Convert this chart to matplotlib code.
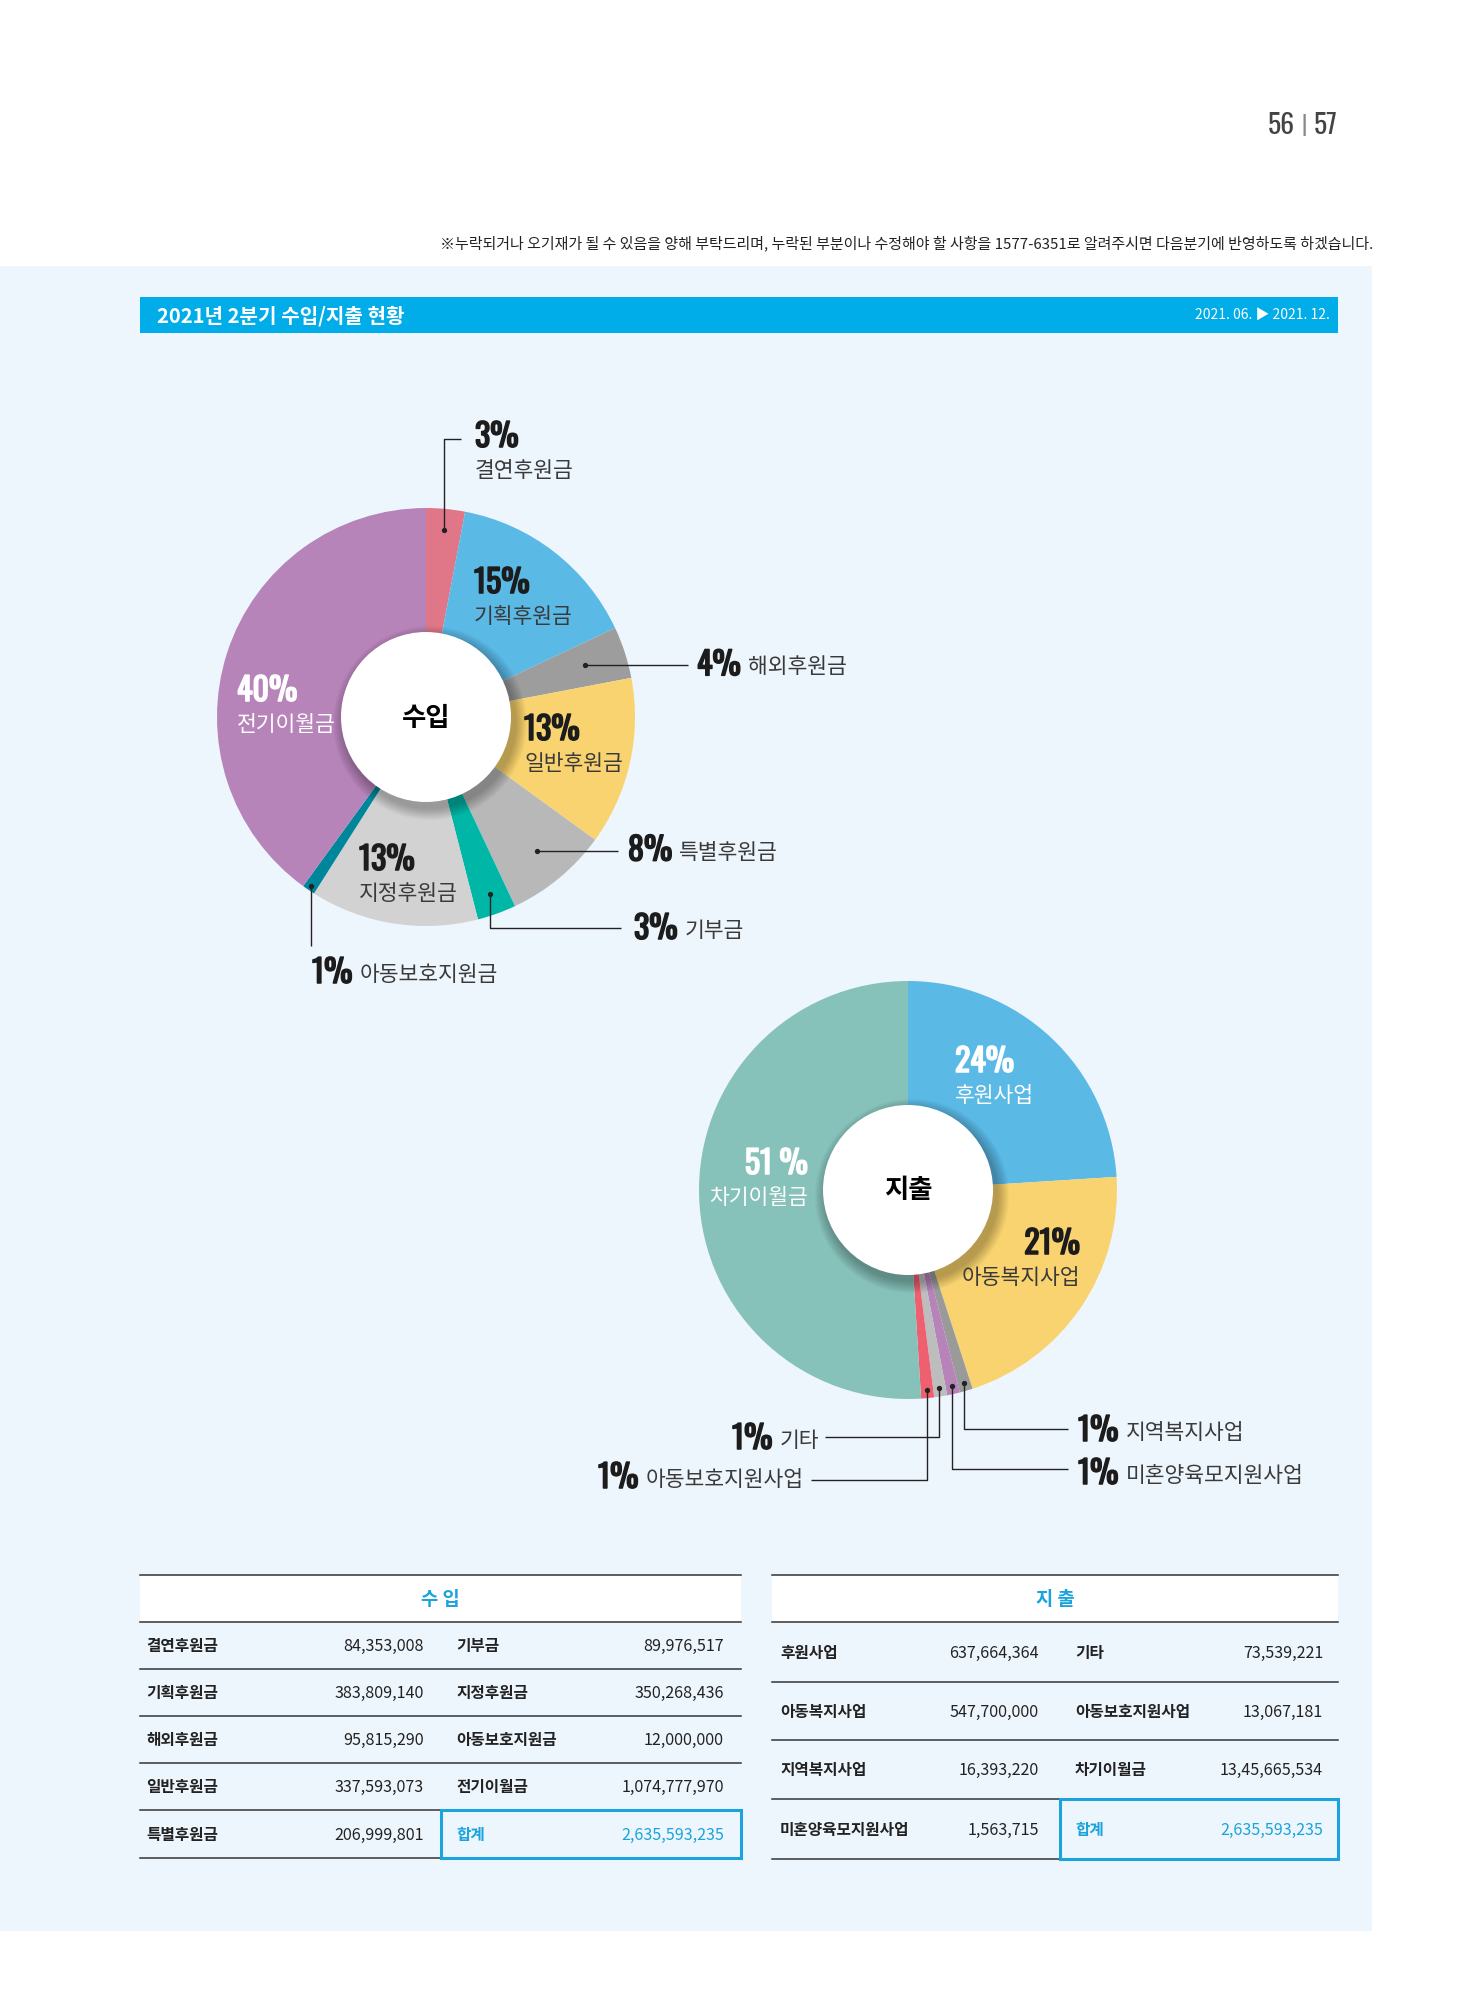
import matplotlib
matplotlib.use("Agg")
import matplotlib.pyplot as plt
import matplotlib.patheffects as pe
from matplotlib.patches import Rectangle, Circle
import numpy as np

W, H = 1480, 1999

KR = ["Noto Sans CJK KR", "DejaVu Sans"]
NUM = ["Oswald", "Bebas Neue", "Roboto Condensed", "Liberation Sans", "DejaVu Sans"]

# ---- data ----
income_labels = ["결연후원금", "기획후원금", "해외후원금", "일반후원금", "특별후원금",
                 "기부금", "지정후원금", "아동보호지원금", "전기이월금"]
income_pct = [3, 15, 4, 13, 8, 3, 13, 1, 40]
income_amounts = ["84,353,008", "383,809,140", "95,815,290", "337,593,073", "206,999,801",
                  "89,976,517", "350,268,436", "12,000,000", "1,074,777,970"]
income_colors = ["#E07789", "#5BB9E6", "#9D9D9D", "#F9D36F", "#B8B8B8",
                 "#00B7A7", "#D2D2D2", "#00869A", "#B784BA"]

expense_labels = ["후원사업", "아동복지사업", "지역복지사업", "미혼양육모지원사업",
                  "기타", "아동보호지원사업", "차기이월금"]
expense_pct = [24, 21, 1, 1, 1, 1, 51]
expense_amounts = ["637,664,364", "547,700,000", "16,393,220", "1,563,715",
                   "73,539,221", "13,067,181", "13,45,665,534"]
expense_colors = ["#5BB9E6", "#F9D36F", "#9A9A9A", "#B784BA", "#BDBDBD", "#EE6070", "#86C1BA"]

total_amount = "2,635,593,235"

BLUE = "#00ADE8"
TBL_BLUE = "#1AA3DC"
DARK = "#1c1c1c"
GREY_TXT = "#3a3a3a"
R, R_IN = 209, 85
PCT_SIZE = 23
LBL_SIZE = 15.5


def Y(y):
    # layout numbers below are measured from the top of the page
    return H - y


def heavy(color):
    # Oswald only ships one weight here, thicken it a little
    return [pe.withStroke(linewidth=1.1, foreground=color)]


fig = plt.figure(figsize=(W / 100, H / 100), dpi=100)
ax = fig.add_axes([0, 0, 1, 1])
ax.set_xlim(0, W)
ax.set_ylim(0, H)
renderer = fig.canvas.get_renderer()

# page background
ax.add_patch(Rectangle((0, Y(1932)), 1372, 1932 - 267, color="#EEF6FD", lw=0, zorder=0))
ax.text(1295, Y(125), "56", family=NUM, size=20, weight="light", color="#444444", ha="right", va="center")
ax.text(1304, Y(125), "|", family=NUM, size=16, weight="light", color="#888888", ha="center", va="center")
ax.text(1314, Y(125), "57", family=NUM, size=20, weight="light", color="#444444", ha="left", va="center")
ax.text(1373, Y(243),
        "※누락되거나 오기재가 될 수 있음을 양해 부탁드리며, 누락된 부분이나 수정해야 할 사항을 "
        "1577-6351로 알려주시면 다음분기에 반영하도록 하겠습니다.",
        family=KR, size=10.8, weight="medium", color="#222222", ha="right", va="center")

# title bar
ax.add_patch(Rectangle((140, Y(334)), 1338 - 140, 36, color=BLUE, lw=0, zorder=1))
ax.text(157, Y(316), "2021년 2분기 수입/지출 현황", family=KR, size=14.5, weight="bold",
        color="white", ha="left", va="center", zorder=2)
ax.text(1330, Y(316), "2021. 06. ▶ 2021. 12.", family=KR, size=10, weight="medium", color="white",
        ha="right", va="center", zorder=2)


def donut(values, colors, cx, cy, title):
    wedges, _ = ax.pie(values, colors=colors, startangle=90, counterclock=False,
                       center=(cx, Y(cy)), radius=R, wedgeprops=dict(linewidth=0))
    # pie() resets the limits, put the page coordinates back
    ax.set_xlim(0, W)
    ax.set_ylim(0, H)
    # soft shadow under the hole
    for k in range(12):
        ax.add_patch(Circle((cx + 4, Y(cy) - 6), R_IN + 12 - k, color="black",
                            alpha=0.025, lw=0, zorder=3))
    ax.add_patch(Circle((cx, Y(cy)), R_IN, color="white", lw=0, zorder=4))
    ax.text(cx, Y(cy), title, family=KR, size=19, weight="bold", color="black",
            ha="center", va="center", zorder=5)
    return wedges


def anchor(w, frac):
    mid = np.deg2rad((w.theta1 + w.theta2) / 2)
    cx, cy = w.center
    return cx + frac * w.r * np.cos(mid), cy + frac * w.r * np.sin(mid)


def stacked(x, y, pct, name, color, ha="left"):
    pc = color if color == "white" else DARK
    ax.text(x, Y(y), pct, family=NUM, weight="bold", size=PCT_SIZE, color=pc,
            ha=ha, va="center", zorder=6, path_effects=heavy(pc))
    ax.text(x, Y(y + 33), name, family=KR, size=LBL_SIZE, weight="light", color=color,
            ha=ha, va="center", zorder=6)


def inline(xp, y, pct, name):
    t = ax.text(xp, Y(y), pct, family=NUM, weight="bold", size=PCT_SIZE, color=DARK,
                ha="left", va="center", zorder=6, path_effects=heavy(DARK))
    bb = t.get_window_extent(renderer).transformed(ax.transData.inverted())
    ax.text(bb.x1 + 7, Y(y) - 1, name, family=KR, size=LBL_SIZE, weight="light", color=GREY_TXT,
            ha="left", va="center", zorder=6)


def leader(w, frac, end_x=None, elbow_y=None):
    x0, y0 = anchor(w, frac)
    if end_x is None:
        end_x = x0
    if elbow_y is None:
        xs, ys = [x0, end_x], [y0, y0]
    else:
        xs, ys = [x0, x0, end_x], [y0, Y(elbow_y), Y(elbow_y)]
    ax.plot(xs, ys, color="#222222", lw=1.0, zorder=6, solid_capstyle="butt")
    ax.plot([x0], [y0], "o", color="#222222", ms=2.8, zorder=7)
    return H - y0


# ---- income donut ----
iw = donut(income_pct, income_colors, 426, 718, "수입")
p = [f"{v}%" for v in income_pct]

leader(iw[0], 0.9, 461, elbow_y=440)
stacked(475, 438, p[0], income_labels[0], GREY_TXT)
stacked(474, 584, p[1], income_labels[1], GREY_TXT)
ty = leader(iw[2], 0.8, 688)
inline(697, ty, p[2], income_labels[2])
stacked(524, 731, p[3], income_labels[3], GREY_TXT)
ty = leader(iw[4], 0.83, 618)
inline(628, ty, p[4], income_labels[4])
leader(iw[5], 0.9, 621, elbow_y=929)
inline(634, 930, p[5], income_labels[5])
stacked(359, 861, p[6], income_labels[6], GREY_TXT)
leader(iw[7], 0.98, elbow_y=947)
inline(312, 974, p[7], income_labels[7])
stacked(237, 692, p[8], income_labels[8], "white")

# ---- expense donut ----
ew = donut(expense_pct, expense_colors, 908, 1191, "지출")
q = [f"{v}%" for v in expense_pct]

stacked(955, 1063, q[0], expense_labels[0], "white")
stacked(1080, 1245, q[1], expense_labels[1], GREY_TXT, ha="right")
leader(ew[2], 0.96, 1068, elbow_y=1430)
inline(1078, 1432, q[2], expense_labels[2])
leader(ew[3], 0.96, 1068, elbow_y=1470)
inline(1078, 1475, q[3], expense_labels[3])
leader(ew[4], 0.96, 825, elbow_y=1438)
inline(732, 1440, q[4], expense_labels[4])
leader(ew[5], 0.96, 811, elbow_y=1481)
inline(598, 1479, q[5], expense_labels[5])
stacked(808, 1165, f"{expense_pct[6]} %", expense_labels[6], "white", ha="right")


# ---- tables ----
def table(x0, x1, lines, header, cols, left, right):
    ax.add_patch(Rectangle((x0, Y(lines[1])), x1 - x0, lines[1] - lines[0], color="white", lw=0, zorder=1))
    for ly in lines:
        ax.plot([x0, x1], [Y(ly), Y(ly)], color="#333333", lw=1.1, zorder=2)
    ax.text((x0 + x1) / 2, Y((lines[0] + lines[1]) / 2), header, family=KR, size=13.5, weight="bold",
            color=TBL_BLUE, ha="center", va="center")
    n1, v1, n2, v2 = cols
    for i, ((ln, lv), (rn, rv)) in enumerate(zip(left, right)):
        yc = Y((lines[i + 1] + lines[i + 2]) / 2)
        ax.text(n1, yc, ln, family=KR, size=11.3, weight="bold", color="#222222", ha="left", va="center")
        ax.text(v1, yc, lv, family=KR, size=11.6, color="#222222", ha="right", va="center")
        c = TBL_BLUE if rn == "합계" else "#222222"
        ax.text(n2, yc, rn, family=KR, size=11.3, weight="bold", color=c, ha="left", va="center")
        ax.text(v2, yc, rv, family=KR, size=11.6, weight="medium" if rn == "합계" else "normal",
                color=c, ha="right", va="center")
    bx = n2 - 15
    ax.add_patch(Rectangle((bx, Y(lines[-1])), x1 - bx, lines[-1] - lines[-2], fill=False,
                           edgecolor=TBL_BLUE, lw=2.2, zorder=3))


inc = list(zip(income_labels, income_amounts))
table(140, 741, [1576, 1623, 1670, 1717, 1764, 1811, 1859], "수 입",
      (146, 424, 456, 724), inc[:5], inc[5:] + [("합계", total_amount)])

exp = list(zip(expense_labels, expense_amounts))
table(772, 1338, [1576, 1623, 1683, 1741, 1800, 1860], "지 출",
      (780, 1039, 1075, 1323), exp[:4], exp[4:] + [("합계", total_amount)])

ax.set_xlim(0, W)
ax.set_ylim(0, H)
ax.set_aspect("auto")
ax.axis("off")
fig.savefig("out.png", dpi=100, facecolor="white")
